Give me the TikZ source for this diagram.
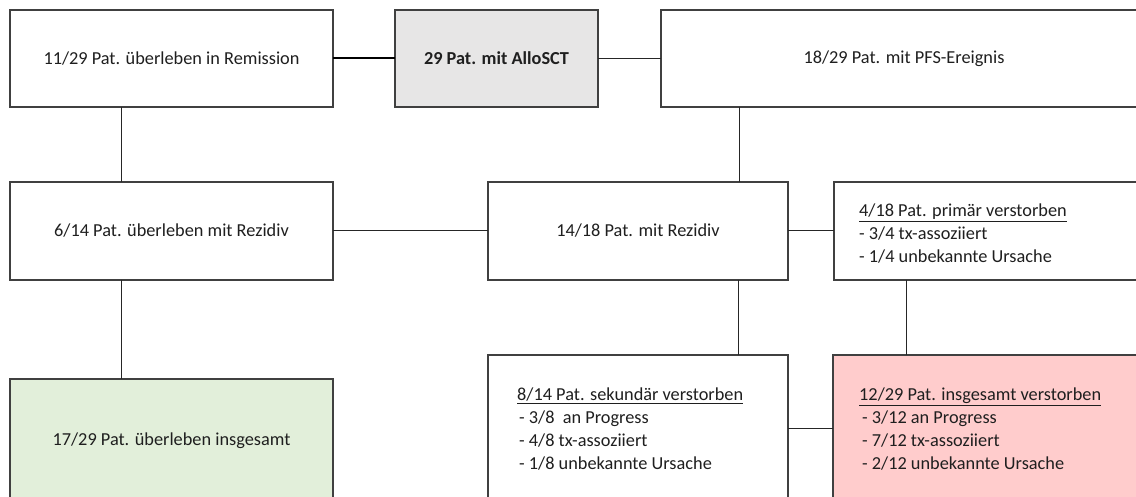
\documentclass[tikz,border=0pt]{standalone}
\usepackage{fontspec}
\setmainfont{Carlito}
\definecolor{boxline}{HTML}{404040}
\definecolor{grayfill}{HTML}{E7E6E6}
\definecolor{greenfill}{HTML}{E2EFDA}
\definecolor{redfill}{HTML}{FFCCCC}
\definecolor{txt}{HTML}{1F1F1F}
\newcommand{\boxfont}{\fontsize{18.3}{23}\selectfont}
\tikzset{
  box/.style={draw=boxline, line width=1.1pt, anchor=north west, inner sep=0pt, outer sep=0pt,
    font=\boxfont, text=txt},
  conn/.style={draw=black!85, line width=1pt},
  thickconn/.style={draw=black, line width=2pt},
  listtext/.style={anchor=west, align=left, inner sep=0pt, font=\boxfont, text=txt},
}
\begin{document}
\begin{tikzpicture}[x=1pt,y=-1pt]
\useasboundingbox (0,0) rectangle (1136,497);
\clip (0,0) rectangle (1136,497);
\fill[white] (0,0) rectangle (1136,497);
% boxes
\node[box, minimum width=323pt, minimum height=97pt] (A) at (10,10) {11/29 Pat. überleben in Remission};
\node[box, fill=grayfill, minimum width=203pt, minimum height=97pt, font=\boxfont\bfseries] (B) at (395,10) {29 Pat. mit AlloSCT};
\node[box, minimum width=486pt, minimum height=97pt] (C) at (661,10) {18/29 Pat. mit PFS-Ereignis};
\node[box, minimum width=323pt, minimum height=98pt] (D) at (10,182) {6/14 Pat. überleben mit Rezidiv};
\node[box, minimum width=300pt, minimum height=98pt] (E) at (488,182) {14/18 Pat. mit Rezidiv};
\node[box, minimum width=320pt, minimum height=98pt] (F) at (834,182) {};
\node[box, fill=greenfill, minimum width=323pt, minimum height=124pt] (G) at (10,379) {17/29 Pat. überleben insgesamt};
\node[box, minimum width=300pt, minimum height=160pt] (H) at (488,355) {};
\node[box, fill=redfill, minimum width=320pt, minimum height=160pt] (I) at (833,355) {};
% texts
\node[listtext] (Ft) at ([xshift=25pt,yshift=-51.5pt]F.north west)
  {\underline{4/18 Pat. primär verstorben}\\- 3/4 tx-assoziiert\\- 1/4 unbekannte Ursache};
\node[listtext] (Ht) at ([xshift=29pt,yshift=-74.5pt]H.north west)
  {\underline{8/14 Pat. sekundär verstorben}\\\hspace{2pt}- 3/8\ \ an Progress\\\hspace{2pt}- 4/8 tx-assoziiert\\\hspace{2pt}- 1/8 unbekannte Ursache};
\node[listtext] (It) at ([xshift=26pt,yshift=-74.5pt]I.north west)
  {\underline{12/29 Pat. insgesamt verstorben}\\\hspace{3pt}- 3/12 an Progress\\\hspace{3pt}- 7/12 tx-assoziiert\\\hspace{3pt}- 2/12 unbekannte Ursache};
% connectors
\draw[thickconn] (A.east) -- (B.west);
\draw[conn] (B.east) -- (C.west);
\draw[conn] ([xshift=111pt]A.south west) -- ([xshift=111pt]D.north west);
\draw[conn] ([xshift=78pt]C.south west) -- ([xshift=251pt]E.north west);
\draw[conn] (D.east) -- (E.west);
\draw[conn] (E.east) -- (F.west);
\draw[conn] ([xshift=111pt]D.south west) -- ([xshift=111pt]G.north west);
\draw[conn] ([xshift=250pt]E.south west) -- ([xshift=250pt]H.north west);
\draw[conn] ([xshift=72pt]F.south west) -- ([xshift=73pt]I.north west);
\draw[conn] ([yshift=-73pt]H.north east) -- ([yshift=-73pt]I.north west);
\end{tikzpicture}
\end{document}
